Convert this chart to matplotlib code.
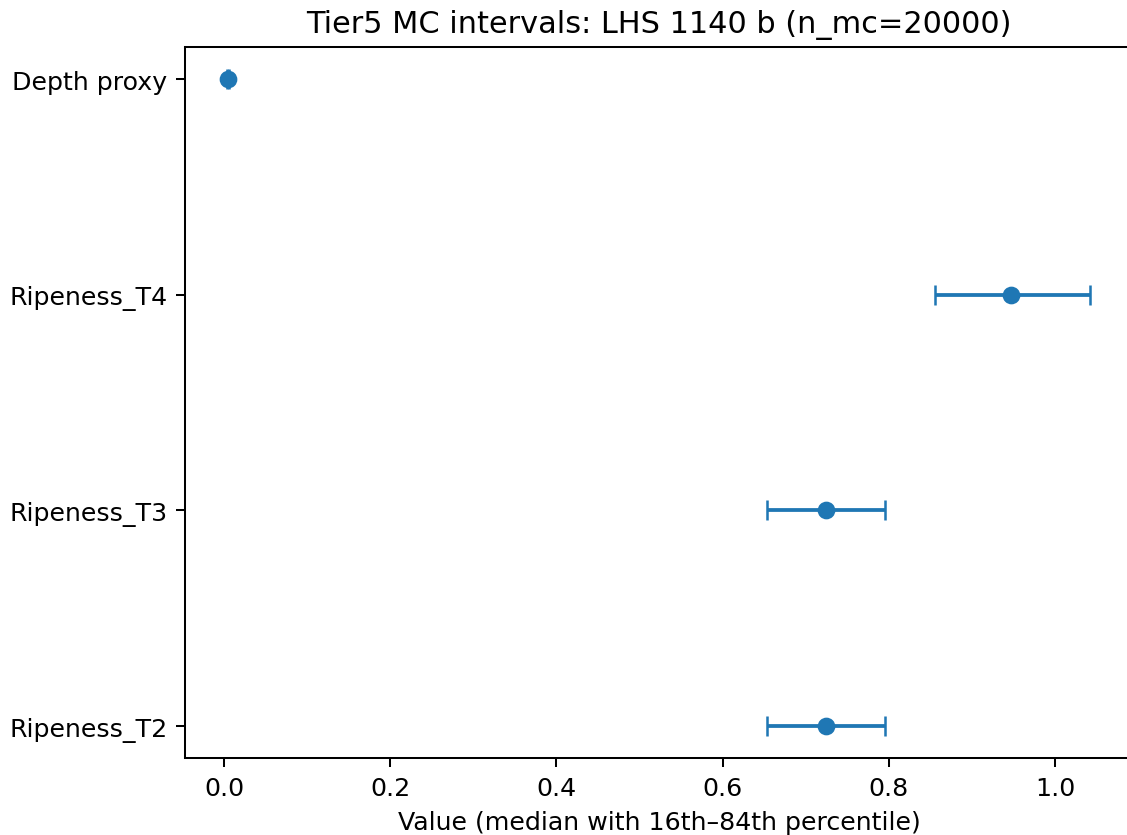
import numpy as np
import matplotlib
matplotlib.use("Agg")
import matplotlib.pyplot as plt

# values (median, 16th and 84th percentile)
labels = ["Depth proxy", "Ripeness_T4", "Ripeness_T3", "Ripeness_T2"]
median = [0.005, 0.947, 0.724, 0.724]
p16 = [0.004, 0.856, 0.653, 0.653]
p84 = [0.006, 1.042, 0.796, 0.796]

median = np.array(median)
err = np.vstack([median - np.array(p16), np.array(p84) - median])
y = np.arange(len(labels))

dpi = 182
fig = plt.figure(figsize=(1127 / dpi, 836 / dpi), dpi=dpi)
# the reference is cropped a little on the right, so the axes run past the edge
ax = fig.add_axes([0.1642, 0.0917, 0.8411, 0.8509])

ax.errorbar(median, y, xerr=err, fmt="o", capsize=4)
ax.set_xlim(-0.047, 1.094)
ax.set_yticks(y)
ax.set_yticklabels(labels)
ax.invert_yaxis()
ax.set_xlabel("Value (median with 16th\u201384th percentile)")
ax.set_title("Tier5 MC intervals: LHS 1140 b (n_mc=20000)")

fig.savefig("out.png", dpi=dpi)
